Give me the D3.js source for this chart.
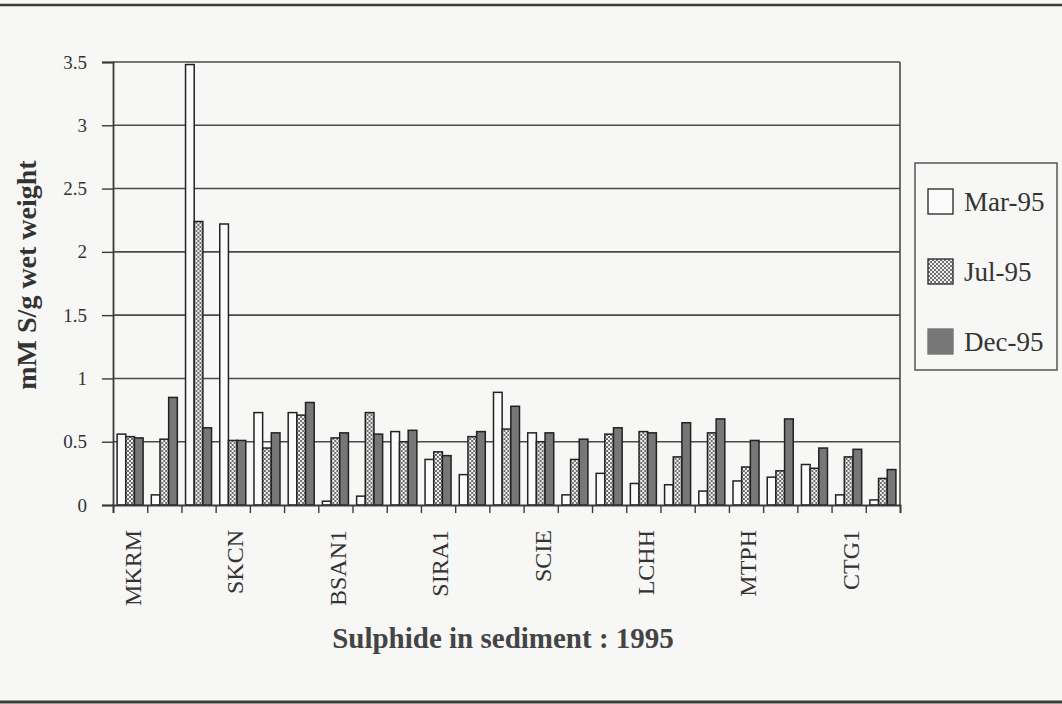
<!DOCTYPE html>
<html>
<head>
<meta charset="utf-8">
<script src="https://cdn.jsdelivr.net/npm/d3@7"></script>
<style>
  body { margin: 0; background: #f7f7f5; }
  svg { display: block; font-family: "Liberation Serif", "DejaVu Serif", serif; }
</style>
</head>
<body>
<div id="chart"></div>
<script>
// sites along the x axis (only every third one is labelled in the figure)
const sites = ['MKRM', '', '', 'SKCN', '', '', 'BSAN1', '', '', 'SIRA1', '', '',
  'SCIE', '', '', 'LCHH', '', '', 'MTPH', '', '', 'CTG1', '']
const seriesNames = ['Mar-95', 'Jul-95', 'Dec-95']
const mar = [0.56, 0.08, 3.48, 2.22, 0.73, 0.73, 0.03, 0.07, 0.58, 0.36, 0.24, 0.89,
  0.57, 0.08, 0.25, 0.17, 0.16, 0.11, 0.19, 0.22, 0.32, 0.08, 0.04]
const jul = [0.54, 0.52, 2.24, 0.51, 0.45, 0.71, 0.53, 0.73, 0.5, 0.42, 0.54, 0.6,
  0.5, 0.36, 0.56, 0.58, 0.38, 0.57, 0.3, 0.27, 0.29, 0.38, 0.21]
const dec = [0.53, 0.85, 0.61, 0.51, 0.57, 0.81, 0.57, 0.56, 0.59, 0.39, 0.58, 0.78,
  0.57, 0.52, 0.61, 0.57, 0.65, 0.68, 0.51, 0.68, 0.45, 0.44, 0.28]
const yTicks = [0, 0.5, 1, 1.5, 2, 2.5, 3, 3.5]

const W = 1062
const H = 704
const plotL = 113, plotR = 900, plotT = 62, plotB = 505

const svg = d3.select('#chart').append('svg').attr('width', W).attr('height', H)

const defs = svg.append('defs')
const pat = defs.append('pattern')
  .attr('id', 'chk').attr('patternUnits', 'userSpaceOnUse')
  .attr('width', 4).attr('height', 4)
pat.append('rect').attr('width', 4).attr('height', 4).attr('fill', '#f0f0f0')
pat.append('rect').attr('width', 2).attr('height', 2).attr('fill', '#6e6e6e')
pat.append('rect').attr('x', 2).attr('y', 2).attr('width', 2).attr('height', 2).attr('fill', '#6e6e6e')

const fills = ['#fbfbfb', 'url(#chk)', '#777777']
const values = [mar, jul, dec]

// page frame lines
svg.append('line').attr('x1', 0).attr('x2', W).attr('y1', 5).attr('y2', 5)
  .attr('stroke', '#3a3a3a').attr('stroke-width', 2.5)
svg.append('line').attr('x1', 0).attr('x2', W).attr('y1', 702).attr('y2', 702)
  .attr('stroke', '#3a3a3a').attr('stroke-width', 3)

const x0 = d3.scaleBand(d3.range(sites.length), [plotL, plotR])
const x1 = d3.scaleBand([0, 1, 2], [x0.bandwidth() * 0.12, x0.bandwidth() * 0.88])
const y = d3.scaleLinear([0, 3.5], [plotB, plotT])
const tickX = d3.scaleLinear([0, sites.length], [plotL, plotR])

// grid
svg.append('g')
  .selectAll('line')
  .data(yTicks.slice(1))
  .join('line')
  .attr('x1', plotL).attr('x2', plotR)
  .attr('y1', (d) => y(d)).attr('y2', (d) => y(d))
  .attr('stroke', '#4a4a4a').attr('stroke-width', 1.6)

svg.append('line').attr('x1', plotR).attr('x2', plotR).attr('y1', plotT).attr('y2', plotB)
  .attr('stroke', '#4a4a4a').attr('stroke-width', 1.6)

// bars
const groups = svg.append('g')
  .selectAll('g')
  .data(sites.map((s, i) => i))
  .join('g')
  .attr('transform', (i) => `translate(${x0(i)},0)`)

groups.selectAll('rect')
  .data((i) => values.map((v, k) => ({ k, v: v[i] })))
  .join('rect')
  .attr('x', (d) => x1(d.k))
  .attr('width', x1.bandwidth())
  .attr('y', (d) => y(d.v))
  .attr('height', (d) => y(0) - y(d.v))
  .attr('fill', (d) => fills[d.k])
  .attr('stroke', '#222')
  .attr('stroke-width', 1.5)

// y axis
const yAxis = svg.append('g')
  .attr('transform', `translate(${plotL},0)`)
  .call(d3.axisLeft(y).tickValues(yTicks).tickSize(11).tickPadding(15).tickFormat(d3.format('')))
yAxis.select('.domain').attr('stroke', '#3a3a3a').attr('stroke-width', 1.8)
yAxis.selectAll('.tick line').attr('stroke', '#3a3a3a').attr('stroke-width', 1.4)
yAxis.selectAll('.tick text').attr('font-size', 19).attr('fill', '#333')
  .attr('font-family', '"Liberation Serif", serif')

// x axis
const xAxis = svg.append('g')
  .attr('transform', `translate(0,${plotB})`)
  .call(d3.axisBottom(tickX).tickValues(d3.range(sites.length + 1)).tickSize(8).tickFormat(''))
xAxis.select('.domain').attr('stroke', '#3a3a3a').attr('stroke-width', 1.8)
xAxis.selectAll('.tick line').attr('stroke', '#3a3a3a').attr('stroke-width', 1.4)

svg.append('g')
  .selectAll('text')
  .data(sites.map((s, i) => ({ s, i })).filter((d) => d.s))
  .join('text')
  .attr('transform', (d) => `translate(${x0(d.i) + x0.bandwidth() / 2 + 2},530) rotate(-90)`)
  .attr('text-anchor', 'end')
  .attr('dy', '0.35em')
  .attr('font-size', 24)
  .attr('fill', '#333')
  .text((d) => d.s)

// titles
svg.append('text')
  .attr('transform', 'translate(36,275) rotate(-90)')
  .attr('text-anchor', 'middle')
  .attr('font-size', 28)
  .attr('font-weight', 'bold')
  .attr('fill', '#333')
  .text('mM S/g wet weight')

svg.append('text')
  .attr('x', 503).attr('y', 648)
  .attr('text-anchor', 'middle')
  .attr('font-size', 29)
  .attr('font-weight', 'bold')
  .attr('fill', '#444')
  .text('Sulphide in sediment : 1995')

// legend
const legend = svg.append('g')
legend.append('rect')
  .attr('x', 915).attr('y', 163).attr('width', 142).attr('height', 207)
  .attr('fill', 'none').attr('stroke', '#555').attr('stroke-width', 1.5)
const items = legend.selectAll('g.item')
  .data(seriesNames)
  .join('g')
  .attr('class', 'item')
  .attr('transform', (d, i) => `translate(928,${189 + i * 70})`)
items.append('rect')
  .attr('width', 25).attr('height', 25)
  .attr('fill', (d, i) => fills[i])
  .attr('stroke', (d, i) => (i === 2 ? '#777' : '#333'))
  .attr('stroke-width', 1.4)
items.append('text')
  .attr('x', 36).attr('y', 13).attr('dy', '0.35em')
  .attr('font-size', 27)
  .attr('fill', '#333')
  .text((d) => d)
</script>
</body>
</html>
